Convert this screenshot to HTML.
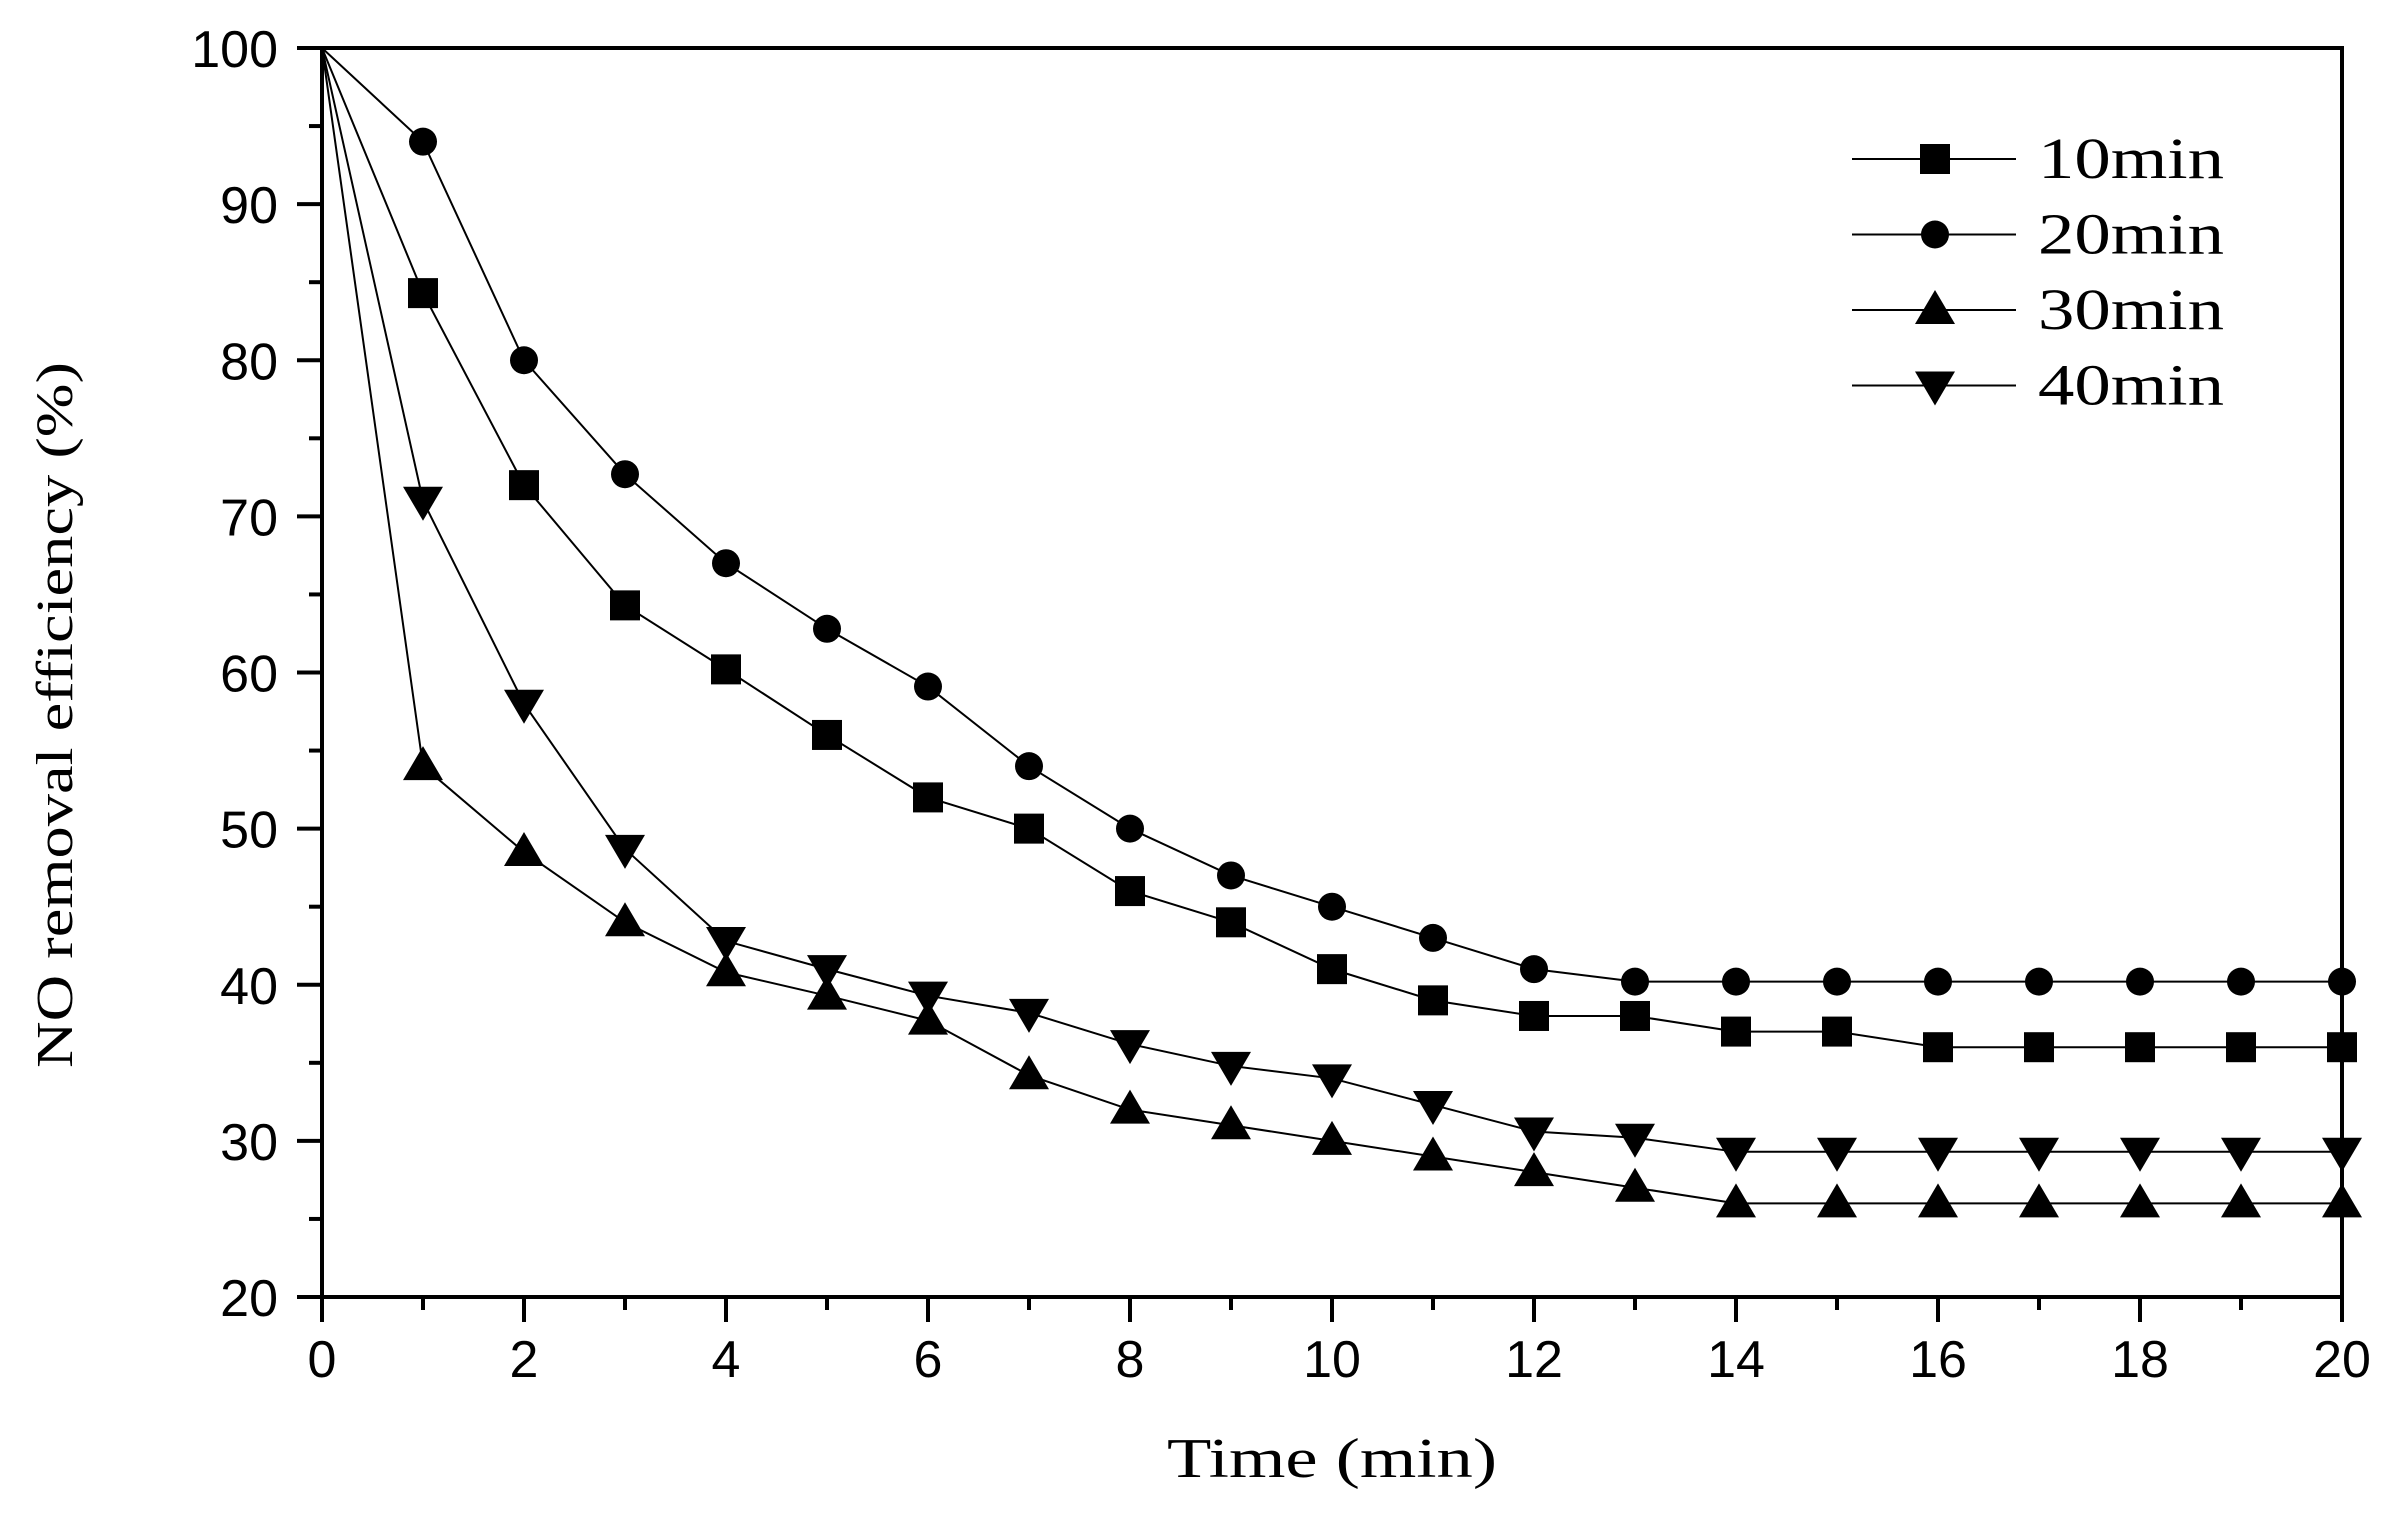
<!DOCTYPE html>
<html><head><meta charset="utf-8"><style>html,body{margin:0;padding:0;background:#fff}</style></head>
<body>
<svg width="2391" height="1508" viewBox="0 0 2391 1508" xmlns="http://www.w3.org/2000/svg">
<rect width="2391" height="1508" fill="#fff"/>
<g id="plot"></g>
<script>
const L=322,R=2342,T=48,B=1297;
const X=t=>L+(R-L)*t/20, Y=v=>B-(B-T)*(v-20)/80;
const ns="http://www.w3.org/2000/svg";
const g=document.getElementById('plot');
function el(n,a,txt){const e=document.createElementNS(ns,n);for(const k in a)e.setAttribute(k,a[k]);if(txt!==undefined)e.textContent=txt;g.appendChild(e);return e;}
for(let v=20;v<=100;v+=5){const maj=v%10==0;el('line',{x1:L-(maj?25:13),x2:L,y1:Y(v),y2:Y(v),stroke:'#000','stroke-width':4});
 if(maj)el('text',{x:L-44,y:Y(v)+19,'text-anchor':'end','font-family':'Liberation Sans, sans-serif','font-size':52},v);}
for(let t=0;t<=20;t++){const maj=t%2==0;el('line',{x1:X(t),x2:X(t),y1:B,y2:B+(maj?25:13),stroke:'#000','stroke-width':4});
 if(maj)el('text',{x:X(t),y:B+80,'text-anchor':'middle','font-family':'Liberation Sans, sans-serif','font-size':52},t);}
el('rect',{x:L,y:T,width:R-L,height:B-T,fill:'none',stroke:'#000','stroke-width':4});
const data={
sq:[100,84.3,72,64.3,60.2,56,52,50,46,44,41,39,38,38,37,37,36,36,36,36,36],
ci:[100,94,80,72.7,67,62.8,59.1,54,50,47,45,43,41,40.2,40.2,40.2,40.2,40.2,40.2,40.2,40.2],
up:[100,54,48.5,44,40.8,39.3,37.7,34.2,32,31,30,29,28,27,26,26,26,26,26,26,26],
dn:[100,71,58,48.7,42.8,41,39.3,38.2,36.2,34.8,34,32.3,30.6,30.2,29.3,29.3,29.3,29.3,29.3,29.3,29.3]};
function marker(k,x,y){
 if(k=='sq')el('rect',{x:x-15,y:y-15,width:30,height:30,fill:'#000'});
 else if(k=='ci')el('circle',{cx:x,cy:y,r:14,fill:'#000'});
 else if(k=='up')el('polygon',{points:`${x},${y-20} ${x-20},${y+14} ${x+20},${y+14}`,fill:'#000'});
 else el('polygon',{points:`${x},${y+20} ${x-20},${y-14} ${x+20},${y-14}`,fill:'#000'});}
for(const k in data){const d=data[k];
 el('polyline',{points:d.map((v,i)=>X(i)+','+Y(v)).join(' '),fill:'none',stroke:'#000','stroke-width':2});
 d.forEach((v,i)=>{if(i>0)marker(k,X(i),Y(v));});}
const labs=[['sq','10min'],['ci','20min'],['up','30min'],['dn','40min']];
labs.forEach((a,i)=>{const y=159+i*75.5;
 el('line',{x1:1852,x2:2016,y1:y,y2:y,stroke:'#000','stroke-width':2});
 marker(a[0],1935,y);
 el('text',{x:2038,y:y+19,'font-family':'Liberation Serif, serif','font-size':58,textLength:186,lengthAdjust:'spacingAndGlyphs'},a[1]);});
el('text',{x:1332,y:1477,'text-anchor':'middle','font-family':'Liberation Serif, serif','font-size':56,textLength:330,lengthAdjust:'spacingAndGlyphs'},'Time (min)');
el('text',{x:0,y:0,'text-anchor':'middle','font-family':'Liberation Serif, serif','font-size':52,textLength:706,lengthAdjust:'spacingAndGlyphs',transform:'translate(72,715) rotate(-90)'},'NO removal efficiency (%)');
</script>
</svg>
</body></html>
